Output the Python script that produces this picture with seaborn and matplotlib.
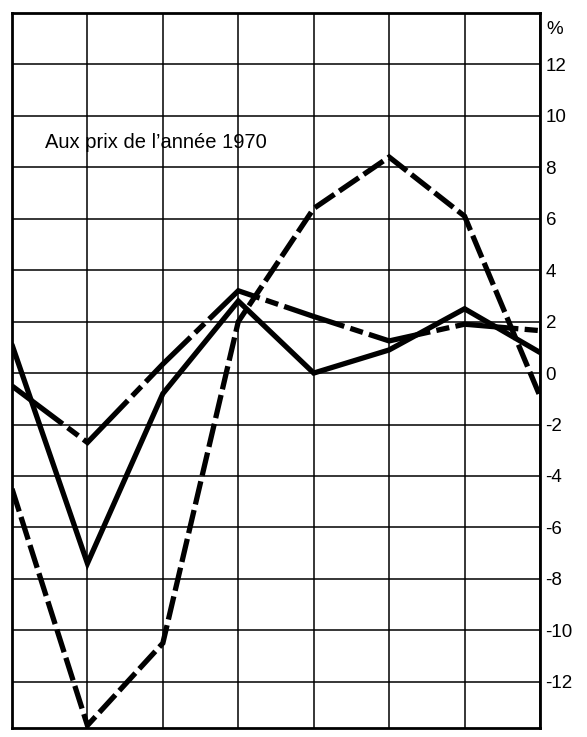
import matplotlib
matplotlib.use("Agg")
import matplotlib.pyplot as plt
import seaborn as sns
import pandas as pd

# Data (percent)
periods = [0, 1, 2, 3, 4, 5, 6, 7]
solid_vals = [1.1, -7.4, -0.8, 2.8, 0.0, 0.9, 2.5, 0.8]
dashdot_vals = [-0.5, -2.7, 0.35, 3.2, 2.2, 1.25, 1.9, 1.65]
dashed_vals = [-4.5, -13.7, -10.5, 2.0, 6.4, 8.4, 6.1, -0.9]
ytick_vals = [-12, -10, -8, -6, -4, -2, 0, 2, 4, 6, 8, 10, 12]
ytick_labels = [str(v) for v in ytick_vals]
note = "Aux prix de l\u2019année 1970"

df = pd.concat([
    pd.DataFrame({"x": periods, "y": solid_vals, "serie": "solid"}),
    pd.DataFrame({"x": periods, "y": dashdot_vals, "serie": "dashdot"}),
    pd.DataFrame({"x": periods, "y": dashed_vals, "serie": "dashed"}),
])

sns.set_style("white")
plt.rcParams["font.family"] = ["Liberation Sans", "DejaVu Sans"]
plt.rcParams["text.color"] = "black"
plt.rcParams["ytick.color"] = "black"

fig = plt.figure(figsize=(5.87, 7.37), dpi=100)
ax = fig.add_axes([12 / 587, 9 / 737, 528 / 587, 715 / 737])

sns.lineplot(data=df, x="x", y="y", style="serie",
             dashes={"solid": "", "dashdot": (12, 1.2, 2.5, 1.2), "dashed": (4.5, 1.1)},
             color="black", linewidth=3.8, legend=False, ax=ax,
             solid_joinstyle="miter", dash_joinstyle="miter")

ax.set_xlim(0, 7)
ax.set_ylim(-13.8, 14)
ax.set_xticks(periods)
ax.set_xticklabels([])
ax.set_yticks(ytick_vals + [14])
ax.set_yticklabels(ytick_labels + [""])
ax.yaxis.tick_right()
ax.tick_params(axis="y", length=0, pad=4, labelsize=13.5, labelcolor="black")
ax.tick_params(axis="x", length=0)
for lab in ax.get_yticklabels():
    lab.set_horizontalalignment("left")
ax.grid(True, color="black", linewidth=1.1)
ax.set_axisbelow(True)
for s in ax.spines.values():
    s.set_color("black")
    s.set_linewidth(2.0)
ax.set_xlabel("")
ax.set_ylabel("")

ax.text(0.44, 8.95, note, fontsize=14.5, va="center", ha="left", color="black")
ax.text(1.012, 13.35, "%", transform=ax.get_yaxis_transform(), fontsize=13.5,
        va="center", ha="left", color="black")

fig.savefig("out.png", dpi=100)
